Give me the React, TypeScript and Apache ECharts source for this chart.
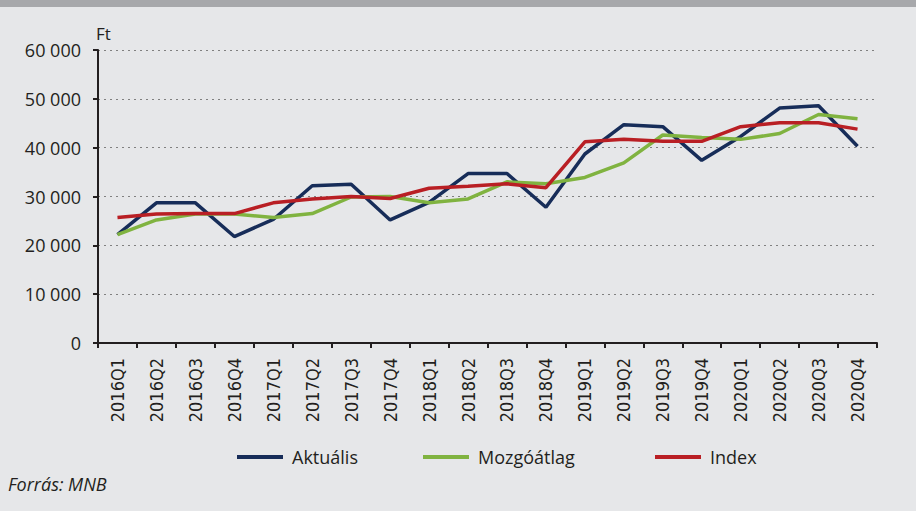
import React, { useEffect, useRef } from "react";
import * as echarts from "echarts";

const categories = [
  "2016Q1", "2016Q2", "2016Q3", "2016Q4",
  "2017Q1", "2017Q2", "2017Q3", "2017Q4",
  "2018Q1", "2018Q2", "2018Q3", "2018Q4",
  "2019Q1", "2019Q2", "2019Q3", "2019Q4",
  "2020Q1", "2020Q2", "2020Q3", "2020Q4",
];
const aktualis = [22200, 28700, 28700, 21800, 25300, 32200, 32500, 25200, 28800, 34700, 34700, 27800, 38700, 44700, 44300, 37400, 42300, 48100, 48600, 40300];
const mozgoatlag = [22200, 25200, 26400, 26400, 25700, 26500, 29900, 30000, 28700, 29500, 33000, 32600, 33900, 36900, 42600, 42100, 41700, 42900, 46800, 45900];
const indexSeries = [25700, 26400, 26500, 26500, 28700, 29500, 30000, 29600, 31700, 32100, 32600, 31800, 41200, 41700, 41300, 41300, 44300, 45100, 45100, 43800];
const seriesNames = ["Aktuális", "Mozgóátlag", "Index"];
const colors = ["#172d59", "#80b340", "#b91f24"];

const FONT = "Open Sans";

export default function App() {
  const ref = useRef<HTMLDivElement>(null);
  useEffect(() => {
    document.body.style.margin = "0";
    const chart = echarts.init(ref.current!, null, { renderer: "svg" });
    const fmt = (v: number) => String(v).replace(/\B(?=(\d{3})+(?!\d))/g, " ");
    const legendLefts = [232, 418, 650];
    chart.setOption({
      animation: false,
      backgroundColor: "#e6e7e9",
      textStyle: { fontFamily: FONT },
      grid: { left: 98, right: 39, top: 50, bottom: 168, containLabel: false },
      legend: seriesNames.map((n, i) => ({
        data: [n],
        left: legendLefts[i],
        top: 443,
        icon: "rect",
        itemWidth: 46,
        itemHeight: 4,
        itemGap: 0,
        textStyle: { fontFamily: FONT, fontSize: 18, color: "#231f20", padding: [0, 0, 0, 4] },
      })),
      graphic: [
        { type: "rect", left: 0, top: 0, shape: { width: 916, height: 7 }, style: { fill: "#a7a8ab" } },
        { type: "text", left: 96, top: 25, style: { text: "Ft", fontFamily: FONT, fontSize: 17, fill: "#231f20" } },
        { type: "text", left: 8, top: 475, style: { text: "Forrás: MNB", fontFamily: FONT, fontStyle: "italic", fontSize: 18, fill: "#231f20" } },
      ],
      xAxis: {
        type: "category",
        data: categories,
        boundaryGap: true,
        axisLine: { lineStyle: { color: "#231f20", width: 2 } },
        axisTick: { show: true, length: 5, lineStyle: { color: "#231f20", width: 2 } },
        axisLabel: { rotate: 90, margin: 15, fontFamily: "'DejaVu Sans Condensed', 'DejaVu Sans'", fontSize: 18, color: "#231f20", interval: 0 },
        splitLine: { show: false },
      },
      yAxis: {
        type: "value",
        min: 0,
        max: 60000,
        interval: 10000,
        axisLine: { show: true, lineStyle: { color: "#231f20", width: 2 } },
        axisTick: { show: true, length: 5, lineStyle: { color: "#231f20", width: 2 } },
        axisLabel: { margin: 17, fontFamily: FONT, fontSize: 18, color: "#231f20", formatter: fmt },
        splitLine: { show: true, lineStyle: { color: "#808080", width: 1.2, type: [2, 4] } },
      },
      series: [aktualis, mozgoatlag, indexSeries].map((d, i) => ({
        name: seriesNames[i],
        type: "line",
        data: d,
        symbol: "none",
        lineStyle: { color: colors[i], width: 3.5 },
        itemStyle: { color: colors[i] },
      })),
    });
    return () => chart.dispose();
  }, []);
  return <div ref={ref} style={{ width: 916, height: 511 }} />;
}
